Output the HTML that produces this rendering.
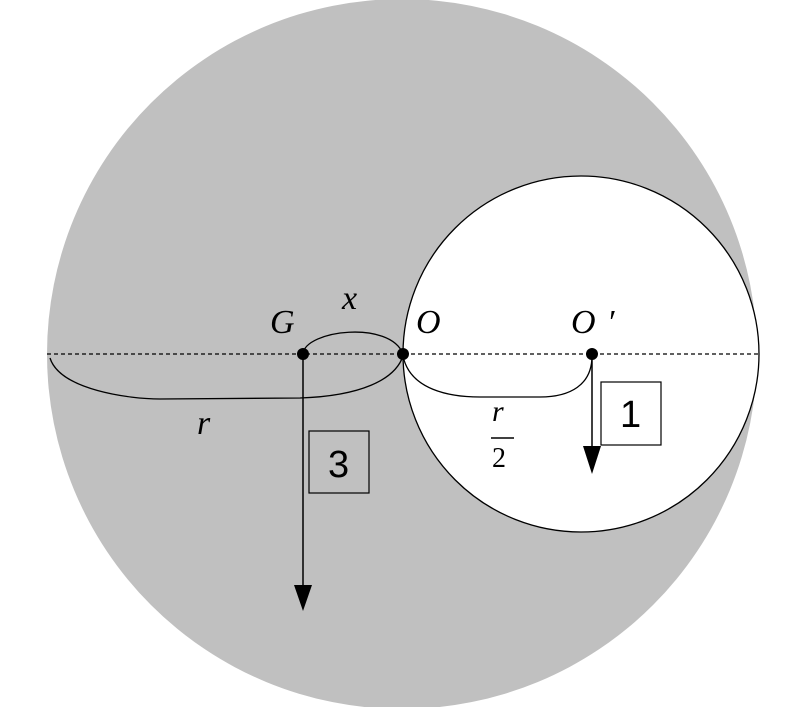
<!DOCTYPE html>
<html><head><style>body{margin:0;background:#fff}svg{display:block}</style></head><body>
<svg width="801" height="707" viewBox="0 0 801 707" xmlns="http://www.w3.org/2000/svg">
<circle cx="402" cy="354" r="355" fill="#c0c0c0"/>
<circle cx="581" cy="354" r="178" fill="#fff" stroke="#000" stroke-width="1.3"/>
<line x1="47" y1="354" x2="759" y2="354" stroke="#000" stroke-width="1.2" stroke-dasharray="4,3"/>
<path d="M50,358 C60,390 130,399 160,399 L300,398 C360,396 395,380 403,356" fill="none" stroke="#000" stroke-width="1.3"/>
<path d="M303,354 C305,330 390,320 403,354" fill="none" stroke="#000" stroke-width="1.3"/>
<path d="M403,356 C410,390 450,397 480,397 L540,397 C570,397 592,385 592,356" fill="none" stroke="#000" stroke-width="1.3"/>
<line x1="303" y1="354" x2="303" y2="588" stroke="#000" stroke-width="1.5"/>
<polygon points="294,585 312,585 303,611" fill="#000"/>
<line x1="592" y1="354" x2="592" y2="450" stroke="#000" stroke-width="1.5"/>
<polygon points="583,446 601,446 592,474" fill="#000"/>
<rect x="309" y="431" width="60" height="62" fill="none" stroke="#000" stroke-width="1.2"/>
<rect x="601" y="382" width="60" height="63" fill="#fff" stroke="#000" stroke-width="1.2"/>
<circle cx="303" cy="354" r="6" fill="#000"/>
<circle cx="403" cy="354" r="6" fill="#000"/>
<circle cx="592" cy="354" r="6" fill="#000"/>
<g font-family="Liberation Serif, serif" font-style="italic" font-size="34" fill="#000">
<text x="270" y="333">G</text>
<text x="342" y="309">x</text>
<text x="416" y="333">O</text>
<text x="571" y="333">O</text>
<text x="607" y="333">′</text>
<text x="197" y="434">r</text>
<text x="492" y="421" font-size="30">r</text>
<text x="492" y="467" font-size="28" font-style="normal">2</text>
</g>
<line x1="491" y1="438" x2="514" y2="438" stroke="#000" stroke-width="1.5"/>
<g font-family="Liberation Sans, sans-serif" font-size="38" fill="#000">
<text x="328" y="477">3</text>
<text x="620" y="427">1</text>
</g>
</svg>
</body></html>
